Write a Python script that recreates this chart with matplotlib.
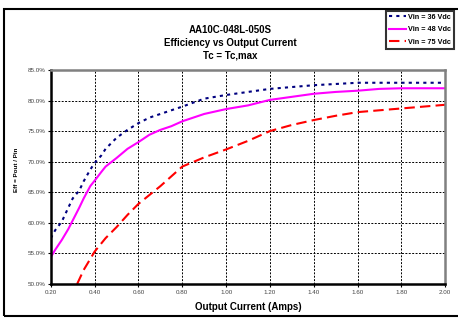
import matplotlib.pyplot as plt
from matplotlib.patches import Rectangle
from matplotlib.ticker import FuncFormatter

plt.rcParams['font.family'] = ['Liberation Sans', 'DejaVu Sans']

# Data
current = [0.20, 0.22, 0.25, 0.28, 0.30, 0.33, 0.35, 0.38, 0.40, 0.43, 0.45,
           0.50, 0.55, 0.60, 0.65, 0.70, 0.75, 0.80, 0.90, 1.00, 1.10, 1.20,
           1.30, 1.40, 1.50, 1.60, 1.70, 1.80, 1.90, 2.00]
eff_36 = [57.5, 58.8, 60.2, 62.5, 64.0, 65.3, 66.8, 68.7, 69.8, 71.0, 72.1,
          73.9, 75.2, 76.3, 77.2, 77.8, 78.4, 79.0, 80.3, 80.9, 81.4, 81.9,
          82.2, 82.5, 82.7, 82.9, 82.9, 82.9, 82.9, 82.9]
eff_48 = [54.4, 55.6, 57.2, 59.0, 60.4, 62.5, 64.0, 66.0, 66.9, 68.3, 69.2,
          70.6, 72.1, 73.2, 74.4, 75.2, 75.8, 76.6, 77.8, 78.6, 79.2, 80.1,
          80.6, 81.1, 81.4, 81.6, 81.9, 82.0, 82.0, 82.0]
current_75 = [0.32, 0.35, 0.40, 0.45, 0.50, 0.55, 0.60, 0.70, 0.80, 0.90, 1.00,
              1.10, 1.20, 1.30, 1.40, 1.50, 1.60, 1.70, 1.80, 1.90, 2.00]
eff_75 = [50.0, 52.3, 55.3, 57.5, 59.3, 61.3, 63.1, 66.0, 69.2, 70.7, 72.0,
          73.4, 75.0, 76.0, 76.8, 77.5, 78.1, 78.4, 78.7, 79.0, 79.3]

x_ticks = [0.20, 0.40, 0.60, 0.80, 1.00, 1.20, 1.40, 1.60, 1.80, 2.00]
y_ticks = [50, 55, 60, 65, 70, 75, 80, 85]

fig = plt.figure(figsize=(4.58, 3.2), dpi=100)
ax = fig.add_axes([0.111, 0.1125, 0.861, 0.669])

# outer chart border
fig.patches.append(Rectangle((0.008, 0.012), 1.2, 0.96, transform=fig.transFigure,
                             fill=False, edgecolor='black', linewidth=1.5))

ax.plot(current, eff_36, color='#000080', linewidth=1.5,
        linestyle=(0, (1.5, 2)), dash_capstyle='butt',
        label='Vin = 36 Vdc')
ax.plot(current, eff_48, color='#FF00FF', linewidth=1.5, label='Vin = 48 Vdc')
ax.plot(current_75, eff_75, color='#FF0000', linewidth=1.5,
        linestyle=(0, (5, 2.5)), dash_capstyle='butt', label='Vin = 75 Vdc')

ax.set_xlim(0.20, 2.00)
ax.set_ylim(50, 85)
ax.set_xticks(x_ticks)
ax.set_yticks(y_ticks)
ax.xaxis.set_major_formatter(FuncFormatter(lambda v, p: f'{v:.2f}'))
ax.yaxis.set_major_formatter(FuncFormatter(lambda v, p: f'{v:.1f}%'))
ax.tick_params(labelsize=4.5, length=2, width=0.8, colors='black',
               labelcolor='#444444', pad=2)
ax.grid(True, color='black', linestyle=(0, (2, 1.5)), linewidth=0.7)

for side in ['left', 'bottom']:
    ax.spines[side].set_color('black')
    ax.spines[side].set_linewidth(1.8)
for side in ['top', 'right']:
    ax.spines[side].set_color('#808080')
    ax.spines[side].set_linewidth(1.8)

ax.set_xlabel('Output Current (Amps)', fontsize=7, fontweight='bold', labelpad=5)
fig.text(0.035, 0.47, 'Eff = Pout / Pin', rotation=90, fontsize=4.5,
         fontweight='bold', ha='center', va='center')

fig.text(0.502, 0.905, 'AA10C-048L-050S', fontsize=7, fontweight='bold', ha='center', va='center')
fig.text(0.502, 0.865, 'Efficiency vs Output Current', fontsize=7, fontweight='bold', ha='center', va='center')
fig.text(0.502, 0.825, 'Tc = Tc,max', fontsize=7, fontweight='bold', ha='center', va='center')

leg = fig.legend(loc='upper left', bbox_to_anchor=(386 / 458, 1 - 11 / 320),
                 prop={'weight': 'bold', 'size': 5.2},
                 frameon=True, fancybox=False, handlelength=2.4,
                 borderpad=0.4, labelspacing=0.75, handletextpad=0.3,
                 borderaxespad=0)
leg.get_frame().set_edgecolor('black')
leg.get_frame().set_linewidth(1.5)

fig.savefig('out.png', dpi=100)
